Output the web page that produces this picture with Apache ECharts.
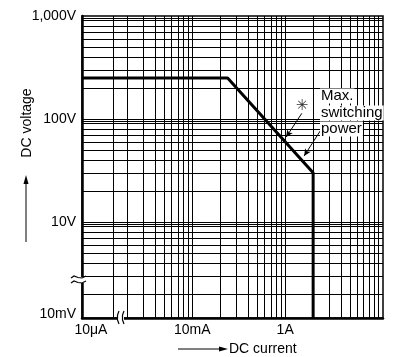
<!DOCTYPE html>
<html>
<head>
<meta charset="utf-8">
<script src="https://cdn.jsdelivr.net/npm/echarts@6/dist/echarts.min.js"></script>
<style>
  html, body { margin: 0; padding: 0; background: #fff; }
  #chart { width: 393px; height: 357px; }
</style>
</head>
<body>
<div id="chart"></div>
<script>
// curve: DC current (A) vs DC voltage (V)
var currentA = [0.0065, 0.24, 2, 2];
var voltageV = [250, 250, 30, 1.17];

// axis range
var xMin = 0.0065, xMax = 11.3;
var yMin = 1.17, yMax = 1000;

// grid lines
var xGrid = [0.014, 0.02, 0.03, 0.04, 0.05, 0.06, 0.07, 0.08, 0.09, 0.1,
             0.2, 0.3, 0.4, 0.5, 0.6, 0.7, 0.8, 0.9, 1,
             2, 3, 4, 5, 6, 7, 8, 9, 10];
var yGrid = [2, 3, 4, 5, 6, 7, 8, 9, 9.5, 10,
             20, 30, 40, 50, 60, 70, 80, 90, 95, 100,
             200, 300, 400, 500, 600, 700, 800, 900, 950];

// tick labels
var xLabelValues = [0.0081, 0.1, 1];
var xLabelText = ["10\u03bcA", "10mA", "1A"];
var yLabelValues = [1.28, 10, 100, 1000];
var yLabelText = ["10mV", "10V", "100V", "1,000V"];

function pickLabel(values, texts, v) {
    var best = 0, d = Infinity;
    for (var i = 0; i < values.length; i++) {
        var dd = Math.abs(Math.log(v) - Math.log(values[i]));
        if (dd < d) { d = dd; best = i; }
    }
    return texts[best];
}

var font = "Liberation Sans";
var chart = echarts.init(document.getElementById("chart"));

var option = {
    animation: false,
    grid: {
        left: 82, top: 16, right: 10, bottom: 39,
        show: true,
        borderColor: "#000",
        borderWidth: 1.5
    },
    xAxis: {
        type: "log",
        min: xMin,
        max: xMax,
        axisLine: { show: true, lineStyle: { color: "#000", width: 2.5 } },
        axisTick: { show: false, customValues: xGrid },
        splitLine: { show: true, lineStyle: { color: "#000", width: 1 } },
        axisLabel: {
            customValues: xLabelValues,
            color: "#000",
            fontFamily: font,
            fontSize: 14,
            margin: 5,
            formatter: function (v) { return pickLabel(xLabelValues, xLabelText, v); }
        }
    },
    yAxis: {
        type: "log",
        min: yMin,
        max: yMax,
        axisLine: { show: true, lineStyle: { color: "#000", width: 2.5 } },
        axisTick: { show: false, customValues: yGrid },
        splitLine: { show: true, lineStyle: { color: "#000", width: 1 } },
        axisLabel: {
            customValues: yLabelValues,
            color: "#000",
            fontFamily: font,
            fontSize: 14,
            margin: 6,
            formatter: function (v) { return pickLabel(yLabelValues, yLabelText, v); }
        }
    },
    series: [
        {
            type: "line",
            data: currentA.map(function (c, i) { return [c, voltageV[i]]; }),
            symbol: "none",
            lineStyle: { color: "#000", width: 3 },
            z: 5,
            markLine: {
                silent: true,
                symbol: ["none", "arrow"],
                symbolSize: [5, 7],
                label: { show: false },
                lineStyle: { color: "#000", width: 1, type: "solid" },
                data: [
                    [{ coord: [1.51, 113.5] }, { coord: [1.025, 66.8] }],
                    [{ coord: [2.38, 76.4] }, { coord: [1.6, 43.8] }]
                ]
            }
        }
    ],
    graphic: [
        // axis names
        { type: "text", x: 27, y: 123, rotation: Math.PI / 2,
          style: { text: "DC voltage", font: "14px " + font, fill: "#000", align: "center", verticalAlign: "middle" } },
        { type: "line", shape: { x1: 26, y1: 242, x2: 26, y2: 182 }, style: { stroke: "#000", lineWidth: 1 } },
        { type: "polygon", shape: { points: [[26, 175], [23.5, 184], [28.5, 184]] }, style: { fill: "#000" } },
        { type: "line", shape: { x1: 178, y1: 349, x2: 220, y2: 349 }, style: { stroke: "#000", lineWidth: 1 } },
        { type: "polygon", shape: { points: [[228, 349], [219, 346.5], [219, 351.5]] }, style: { fill: "#000" } },
        { type: "text", x: 229, y: 349,
          style: { text: "DC current", font: "14px " + font, fill: "#000", align: "left", verticalAlign: "middle" } },
        // annotation
        { type: "text", x: 302, y: 106, z: 20,
          style: { text: "\u2733", font: "15px 'DejaVu Sans'", fill: "#333", align: "center", verticalAlign: "middle" } },
        { type: "text", x: 320, y: 96, z: 20,
          style: { text: "Max.", font: "15px " + font, fill: "#000", align: "left", verticalAlign: "middle", backgroundColor: "#fff", padding: [0, 1] } },
        { type: "text", x: 320, y: 113, z: 20,
          style: { text: "switching", font: "15px " + font, fill: "#000", align: "left", verticalAlign: "middle", backgroundColor: "#fff", padding: [0, 1] } },
        { type: "text", x: 320, y: 129, z: 20,
          style: { text: "power", font: "15px " + font, fill: "#000", align: "left", verticalAlign: "middle", backgroundColor: "#fff", padding: [0, 1] } },
        // axis breaks
        { type: "rect", shape: { x: 73, y: 277, width: 12, height: 6 }, style: { fill: "#fff" }, z: 30 },
        { type: "polyline", shape: { points: [[71, 278], [74, 276], [78, 277.5], [82, 278], [86, 276]] }, style: { stroke: "#000", lineWidth: 1.2, fill: null }, z: 31 },
        { type: "polyline", shape: { points: [[71, 283], [74, 281], [78, 282.5], [82, 283], [86, 281]] }, style: { stroke: "#000", lineWidth: 1.2, fill: null }, z: 31 },
        { type: "rect", shape: { x: 118, y: 312, width: 6, height: 12 }, style: { fill: "#fff" }, z: 30 },
        { type: "polyline", shape: { points: [[119, 311], [117.5, 315], [117.5, 320], [119, 324]] }, style: { stroke: "#000", lineWidth: 1.2, fill: null }, z: 31 },
        { type: "polyline", shape: { points: [[124, 311], [122.5, 315], [122.5, 320], [124, 324]] }, style: { stroke: "#000", lineWidth: 1.2, fill: null }, z: 31 }
    ]
};
chart.setOption(option);
</script>
</body>
</html>
